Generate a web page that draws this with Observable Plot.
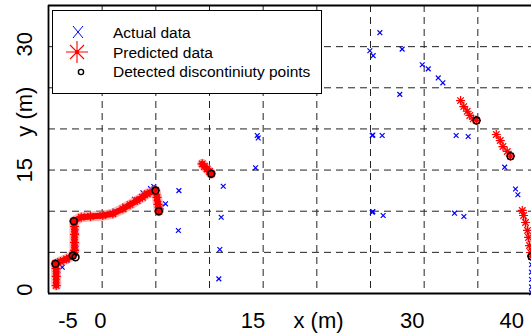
<!DOCTYPE html>
<html>
<head>
<meta charset="utf-8">
<script src="https://cdn.jsdelivr.net/npm/d3@7"></script>
<script src="https://cdn.jsdelivr.net/npm/@observablehq/plot@0.6"></script>
<style>
  html, body { margin: 0; padding: 0; background: #fff; }
  #wrap { position: relative; width: 531px; height: 335px; overflow: hidden; font-family: "Liberation Sans", Arial, sans-serif; }
  #legend { position: absolute; left: 52px; top: 10px; }
</style>
</head>
<body>
<div id="wrap"></div>
<script>
// ---- data (metres) ----
const predictedX = [-4.28,-4.28,-4.30,-4.35,-3.88,-3.32,-2.74,-2.58,-2.58,-2.58,-2.58,-2.64,-1.95,-1.09,0.06,0.99,1.92,2.6,3.26,3.75,4.20,4.97,5.11,5.20,5.28,
  null,9.32,9.53,9.77,10.0,10.16,
  null,33.39,33.69,34.01,34.25,34.57,34.88,
  null,36.72,37.09,37.34,37.74,38.05,
  null,39.14,39.26,39.44,39.63,39.72,39.81,39.91,40.0];
const predictedY = [0.97,2.07,3.04,3.61,3.89,4.19,4.62,5.23,6.20,7.17,8.14,8.79,9.27,9.36,9.48,9.69,10.29,10.8,11.30,11.7,12.12,12.52,11.67,10.82,10.0,
  null,15.76,15.43,15.13,14.83,14.55,
  null,23.45,22.72,22.15,21.63,21.23,21.02,
  null,19.32,18.59,17.86,17.26,16.69,
  null,10.09,9.48,8.63,7.66,6.81,5.83,4.98,4.5];

const actualX = [-4.1,-3.72,-3.3,-2.4,-2.4,-1.5,0.3,1.2,2.1,3.0,3.8,4.5,4.81,5.5,5.9,
  7.15,7.1,11.28,11.09,10.96,10.87,14.29,14.45,14.54,
  25.87,24.94,25.25,27.95,29.82,30.38,31.31,31.74,27.73,
  25.16,25.22,26.09,32.98,34.1,37.5,38.51,38.73,
  25.16,25.22,26.18,32.83,33.7,40.0,40.0,40.0,40.0,40.0];
const actualY = [2.8,3.2,4.0,5.5,7.5,9.5,9.75,10.05,10.65,11.45,12.25,12.75,13.0,10.5,10.9,
  12.5,7.66,13.04,9.27,5.35,1.78,15.27,19.2,18.9,
  31.7,29.5,28.9,29.7,27.8,27.3,26.2,25.6,24.2,
  19.2,19.25,19.2,19.2,19.08,15.35,12.7,12.0,
  9.88,9.95,9.48,9.76,9.36,3.5,2.6,1.7,0.8,0.1];

const detectedX = [-4.35,-2.74,-2.48,-2.64,4.97,5.28,10.16,34.88,38.05,40.0];
const detectedY = [3.61,4.62,4.4,8.79,12.52,10.0,14.55,21.02,16.69,4.5];

const gridXValues = [0,5,10,15,20,25,30,35];
const gridYValues = [5,10,15,20,25,30];

const xTickLabels = ["-5","0","15","x (m)","30","40"];
const xTickPos = [-3.18,-0.16,14.05,20.16,28.89,38.17];
const yTickLabels = ["0","15","y (m)","30"];
const yTickPos = [0.46,14.98,22.1,30.3];

const legendLabels = ["Actual data","Predicted data","Detected discontiniuty points"];

// ---- tables ----
const predicted = predictedX.map((x,i)=>({x, y: predictedY[i]}));
const predictedPts = predicted.filter(d=>d.x!==null);
const predictedNear = predicted.slice(0, 31);   // dense left/middle tracks
const predictedFar = predicted.slice(31);       // sparse right tracks
const actual = actualX.map((x,i)=>({x, y: actualY[i]}));
const detected = detectedX.map((x,i)=>({x, y: detectedY[i]}));

// MATLAB-like '*' marker (8 spokes)
const star = {draw(ctx, size){ const r = Math.sqrt(size/Math.PI); const d = r*0.72;
  ctx.moveTo(-r,0); ctx.lineTo(r,0); ctx.moveTo(0,-r); ctx.lineTo(0,r);
  ctx.moveTo(-d,-d); ctx.lineTo(d,d); ctx.moveTo(-d,d); ctx.lineTo(d,-d); }};
const cross = {draw(ctx, size){ const r = Math.sqrt(size/Math.PI)*0.75;
  ctx.moveTo(-r,-r); ctx.lineTo(r,r); ctx.moveTo(-r,r); ctx.lineTo(r,-r); }};

const chart = Plot.plot({
  width: 531, height: 335,
  marginLeft: 48, marginRight: 0, marginTop: 5, marginBottom: 42,
  x: {domain: [-5, 40], axis: null},
  y: {domain: [0, 35], axis: null},
  style: {fontFamily: "'Liberation Sans', Arial, sans-serif", background: "white", overflow: "hidden"},
  marks: [
    Plot.ruleX(gridXValues, {stroke: "#222", strokeWidth: 1, strokeDasharray: "7,5"}),
    Plot.ruleY(gridYValues, {stroke: "#222", strokeWidth: 1, strokeDasharray: "7,5"}),
    Plot.dot(actual, {x: "x", y: "y", symbol: cross, r: 3.2, stroke: "#0000ff", strokeWidth: 1.2}),
    Plot.line(predictedNear, {x: "x", y: "y", stroke: "#ff8080", strokeWidth: 10, strokeOpacity: 0.6}),
    Plot.line(predictedNear, {x: "x", y: "y", stroke: "#ff0000", strokeWidth: 6}),
    Plot.line(predictedFar, {x: "x", y: "y", stroke: "#ff9090", strokeWidth: 4, strokeOpacity: 0.7}),
    Plot.dot(predictedPts, {x: "x", y: "y", symbol: star, r: 4.5, stroke: "#ff0000", strokeWidth: 1.2}),
    Plot.dot(detected, {x: "x", y: "y", r: 3.4, stroke: "#000", strokeWidth: 1.6, fill: "none"}),
    Plot.ruleX([-5], {stroke: "#000", strokeWidth: 1.8}),
    Plot.ruleY([0, 35], {stroke: "#000", strokeWidth: 1.8}),
    Plot.text(xTickLabels, {x: (d,i)=>xTickPos[i], frameAnchor: "bottom", dy: 27, text: d=>d,
      fontSize: 22, fill: "#000", lineAnchor: "middle", textAnchor: "middle"}),
    Plot.text(yTickLabels, {y: (d,i)=>yTickPos[i], frameAnchor: "left", dx: -24, text: d=>d,
      rotate: -90, fontSize: 22, fill: "#000", lineAnchor: "middle", textAnchor: "middle"})
  ]
});
document.getElementById("wrap").appendChild(chart);

// ---- legend box ----
const lw = 269, lh = 83;
const leg = d3.select("#wrap").append("svg").attr("id","legend")
  .attr("width", lw+1).attr("height", lh+1);
leg.append("rect").attr("x",0.5).attr("y",0.5).attr("width",lw).attr("height",lh)
  .attr("fill","#fff").attr("stroke","#000").attr("stroke-width",1);
const rows = [22, 42, 61];
const sx = 26;
leg.append("path").attr("transform",`translate(${sx},${rows[0]})`)
  .attr("d","M-5,-6L5,6M-5,6L5,-6").attr("stroke","#0000ff").attr("stroke-width",1).attr("fill","none");
leg.append("path").attr("transform",`translate(${sx-1},${rows[1]})`)
  .attr("d","M-11,0L11,0M0,-11L0,11M-7,-7L7,7M-7,7L7,-7").attr("stroke","#ff0000").attr("stroke-width",1.1).attr("fill","none");
leg.append("circle").attr("cx",sx-1).attr("cy",rows[1]).attr("r",2).attr("fill","#ff0000");
leg.append("circle").attr("cx",sx+3).attr("cy",rows[2]+1).attr("r",2.6).attr("fill","none").attr("stroke","#000").attr("stroke-width",1.4);
leg.selectAll("text.l").data(legendLabels).join("text")
  .attr("x", 61).attr("y",(d,i)=>rows[i]).attr("dy","0.36em")
  .attr("font-family","'Liberation Sans', Arial, sans-serif").attr("font-size",15.5).attr("fill","#000")
  .text(d=>d);
</script>
</body>
</html>
